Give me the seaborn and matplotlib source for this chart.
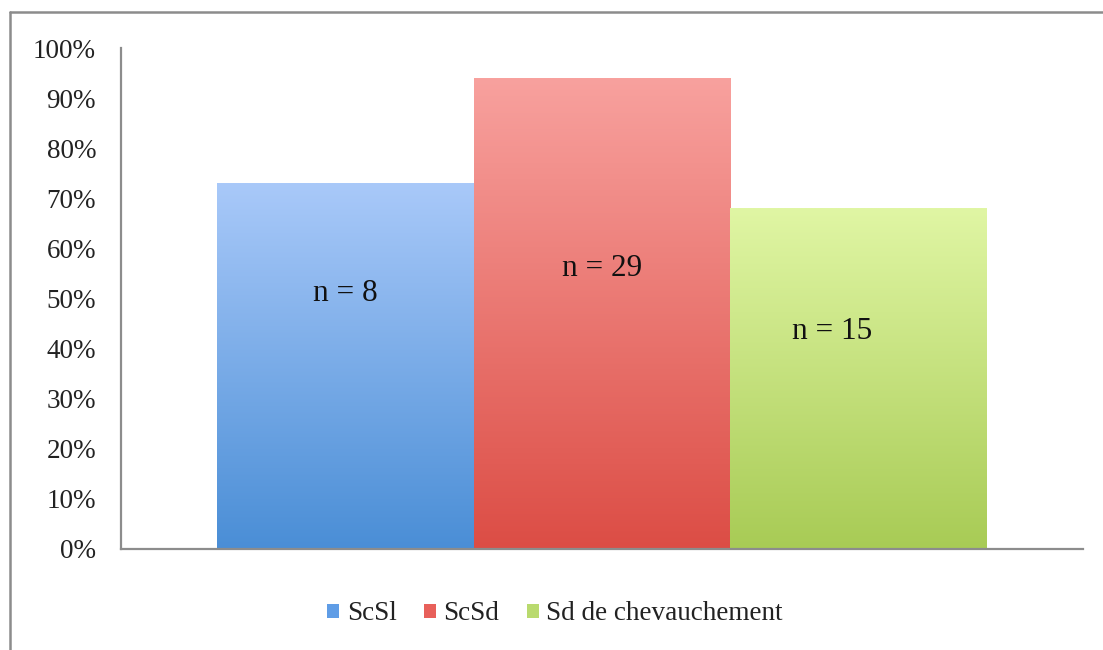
import numpy as np
import pandas as pd
import matplotlib
matplotlib.use("Agg")
import matplotlib.pyplot as plt
import seaborn as sns
from matplotlib.colors import LinearSegmentedColormap
from matplotlib.patches import Patch
from matplotlib.lines import Line2D
from matplotlib.ticker import PercentFormatter

# Data
categories = ["ScSl", "ScSd", "Sd de chevauchement"]
shares = [0.73, 0.94, 0.68]
counts = ["n = 8", "n = 29", "n = 15"]
count_pos_x = [0.0, 1.0, 1.9]
count_pos_y = [0.51, 0.56, 0.435]

# Gradient colours for each bar (top, bottom)
top_colors = ["#a9c9f9", "#f8a19e", "#e0f6a4"]
bottom_colors = ["#4a8ed6", "#dc4d45", "#a8cb55"]
legend_colors = ["#5f9de6", "#e8605a", "#b9da6e"]

sns.set_theme(style="white")
plt.rcParams["font.family"] = ["Liberation Serif", "DejaVu Serif"]

fig = plt.figure(figsize=(11.03, 6.5), dpi=100)
ax = fig.add_axes([121 / 1103, 1 - 549 / 650, (1083 - 121) / 1103, (549 - 48) / 650])

df = pd.DataFrame({"cat": categories, "share": shares})
sns.barplot(data=df, x="cat", y="share", hue="cat", palette=legend_colors,
            width=1.0, legend=False, ax=ax, saturation=1)

# Vertical gradient fill clipped to each bar
for patch, c_top, c_bot in zip(ax.patches, top_colors, bottom_colors):
    x0, y0 = patch.get_x(), patch.get_y()
    w, h = patch.get_width(), patch.get_height()
    cmap = LinearSegmentedColormap.from_list("g", [c_bot, c_top])
    grad = np.linspace(0, 1, 256).reshape(-1, 1)
    im = ax.imshow(grad, cmap=cmap, aspect="auto", origin="lower",
                   extent=[x0, x0 + w, y0, y0 + h], zorder=patch.get_zorder() + 0.1)
    im.set_clip_path(patch)
    patch.set_edgecolor("none")

for x, y, t in zip(count_pos_x, count_pos_y, counts):
    ax.text(x, y, t, ha="center", va="center", fontsize=22.5, color="#111111", zorder=5)

ax.set_xlim(-0.875, 2.877)
ax.set_ylim(0, 1)
ax.set_yticks(np.arange(0, 1.01, 0.1))
ax.yaxis.set_major_formatter(PercentFormatter(1.0, decimals=0))
ax.set_xticks([])
ax.set_xlabel("")
ax.set_ylabel("")
ax.tick_params(axis="y", length=0, pad=18, labelsize=19.5, labelcolor="#222222")

for side in ["top", "right"]:
    ax.spines[side].set_visible(False)
for side in ["left", "bottom"]:
    ax.spines[side].set_color("#8c8c8c")
    ax.spines[side].set_linewidth(1.6)
    ax.spines[side].set_zorder(6)

# Legend
handles = [Patch(facecolor=c, edgecolor="none") for c in legend_colors]
fig.legend(handles, categories, loc="center", bbox_to_anchor=(555 / 1103, 1 - 614 / 650),
           ncol=3, frameon=False, fontsize=19.5, handlelength=0.45, handleheight=0.45,
           handletextpad=0.28, columnspacing=1.0, labelcolor="#222222")

# Outer frame (left and top edges)
fx = 10 / 1103
fy = 1 - 12 / 650
fig.add_artist(Line2D([fx, fx], [0, fy], transform=fig.transFigure, color="#8c8c8c", lw=1.8))
fig.add_artist(Line2D([fx, 1], [fy, fy], transform=fig.transFigure, color="#8c8c8c", lw=1.8))

fig.savefig("out.png", dpi=100)
